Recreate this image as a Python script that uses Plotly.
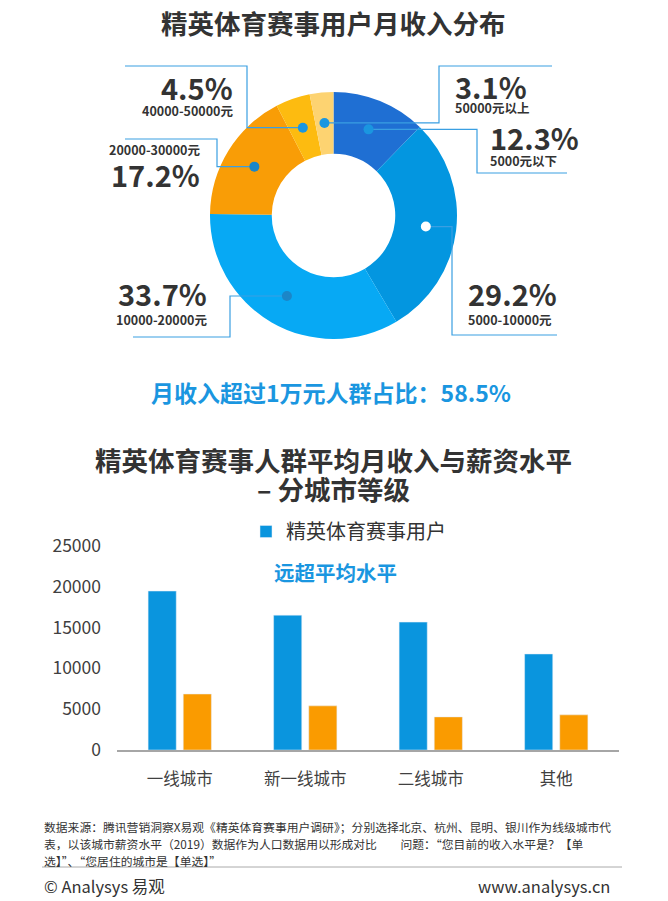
#!/usr/bin/env python3

"""
elite sports event users: monthly income split + income by city tier
"""

import math

import plotly.graph_objects as go

# ---------------------------------------------------------------------------
# data
# ---------------------------------------------------------------------------
income_bands = [
    "5000元以下",
    "5000-10000元",
    "10000-20000元",
    "20000-30000元",
    "40000-50000元",
    "50000元以上",
]
income_share = [12.3, 29.2, 33.7, 17.2, 4.5, 3.1]
high_income_share = 58.5  # share of users above 10k / month

city_tiers = ["一线城市", "新一线城市", "二线城市", "其他"]
elite_income = [19450, 16500, 15650, 11750]
city_avg_salary = [6850, 5400, 4050, 4300]
y_ticks = [0, 5000, 10000, 15000, 20000, 25000]

# ---------------------------------------------------------------------------
# style / layout
# ---------------------------------------------------------------------------
# the page body keeps its default 8px margin, so the figure is drawn 8px in
# from the window edge; all positions below are window pixels
OFF = 8
W, H = 668 - OFF, 901 - OFF
FONT = "Noto Sans CJK SC, Noto Sans, sans-serif"
DARK = "#333333"
ACCENT = "#1a96e0"
LEADER = "#3a9fe2"

SLICE_COLORS = ["#1f6fd3", "#0396e0", "#07a9f4", "#f99d06", "#fdbb10", "#fdd371"]
DOT_COLORS = [ACCENT, "#ffffff", "#1b86c8", "#1b86c8", ACCENT, ACCENT]
COL_ELITE = "#0a95de"
COL_AVG = "#fa9b00"

# donut placement in pixels
PIE_CX, PIE_CY, PIE_R = 333.5, 215.5, 123.5
DOT_R = 93  # radius where the marker dots sit (middle of the ring)

# per slice: elbow x, final line y, line end x, text x, pct y, band y, side
label_layout = [
    (477, 173, 567, 488, 137, 160, "left"),
    (452, 335, 557, 466, 293, 319, "left"),
    (230, 337, 133, 209, 293, 319, "right"),
    (217, 139, 125, 202, 174, 149, "right"),
    (247, 66, 125, 235, 87, 111, "right"),
    (439, 66, 552, 453, 86, 108, "left"),
]


def px(x):
    return (x - OFF) / W


def py(y):
    return 1 - (y - OFF) / H


def note(text, x, y, size, color=DARK, xanchor="center"):
    # free text placed in window pixels
    return dict(
        text=text, x=px(x), y=py(y), xref="paper", yref="paper",
        xanchor=xanchor, yanchor="middle", showarrow=False,
        font=dict(size=size, color=color),
    )


fig = go.Figure()

# ---------------------------------------------------------------------------
# donut
# ---------------------------------------------------------------------------
fig.add_trace(
    go.Pie(
        labels=income_bands,
        values=income_share,
        hole=0.5,
        sort=False,
        direction="clockwise",
        rotation=0,
        textinfo="none",
        marker=dict(colors=SLICE_COLORS, line=dict(width=0)),
        domain=dict(
            x=[px(PIE_CX - PIE_R), px(PIE_CX + PIE_R)],
            y=[py(PIE_CY + PIE_R), py(PIE_CY - PIE_R)],
        ),
        showlegend=False,
    )
)

shapes = []
annotations = []
total = sum(income_share)
cum = 0.0
for i, (band, share) in enumerate(zip(income_bands, income_share)):
    mid = (cum + share / 2) / total
    cum += share
    theta = 2 * math.pi * mid
    dx = PIE_CX + DOT_R * math.sin(theta)
    dy = PIE_CY - DOT_R * math.cos(theta)
    ex, ly, endx, tx, pct_y, band_y, side = label_layout[i]

    # elbow leader line: dot -> elbow -> label line
    path = (
        f"M {px(dx)},{py(dy)} L {px(ex)},{py(dy)} "
        f"L {px(ex)},{py(ly)} L {px(endx)},{py(ly)}"
    )
    shapes.append(
        dict(type="path", xref="paper", yref="paper", path=path,
             line=dict(color=LEADER, width=1.2))
    )
    shapes.append(
        dict(type="circle", xref="paper", yref="paper",
             x0=px(dx - 5), x1=px(dx + 5), y0=py(dy + 5), y1=py(dy - 5),
             fillcolor=DOT_COLORS[i], line=dict(width=0))
    )
    annotations.append(note(f"<b>{share:.1f}%</b>", tx, pct_y, 29, xanchor=side))
    annotations.append(note(f"<b>{band}</b>", tx, band_y, 12.5, xanchor=side))

# ---------------------------------------------------------------------------
# bars by city tier
# ---------------------------------------------------------------------------
fig.add_trace(
    go.Bar(x=city_tiers, y=elite_income, name="精英体育赛事用户",
           marker_color=COL_ELITE, xaxis="x", yaxis="y")
)
fig.add_trace(
    go.Bar(x=city_tiers, y=city_avg_salary, name="城市平均薪资水平",
           marker_color=COL_AVG, showlegend=False, xaxis="x", yaxis="y")
)

# titles and free text
annotations += [
    note("<b>精英体育赛事用户月收入分布</b>", 333, 23, 26.5),
    note(f"<b>月收入超过1万元人群占比：{high_income_share}%</b>", 331, 392, 23, ACCENT),
    note("<b>精英体育赛事人群平均月收入与薪资水平</b>", 333, 459, 26.5),
    note("<b>– 分城市等级</b>", 333, 489, 26.5),
    note("<b>远超平均水平</b>", 335, 572, 20.5, ACCENT),
]

footer = [
    "数据来源：腾讯营销洞察X易观《精英体育赛事用户调研》；分别选择北京、杭州、昆明、银川作为线级城市代",
    "表，以该城市薪资水平（2019）数据作为人口数据用以形成对比　　问题：“您目前的收入水平是？【单",
    "选】”、“您居住的城市是【单选】”",
]
for k, line in enumerate(footer):
    annotations.append(note(line, 42, 826 + 17 * k, 11.8, xanchor="left"))
shapes.append(
    dict(type="line", xref="paper", yref="paper", x0=px(42), x1=px(622),
         y0=py(867), y1=py(867), line=dict(color="#aaaaaa", width=1))
)
annotations.append(note("© Analysys 易观", 42, 886, 16.5, xanchor="left"))
annotations.append(note("www.analysys.cn", 612, 886, 16.5, xanchor="right"))

fig.update_layout(
    width=W,
    height=H,
    margin=dict(l=0, r=0, t=0, b=0, autoexpand=False),
    paper_bgcolor="white",
    plot_bgcolor="rgba(0,0,0,0)",
    font=dict(family=FONT, color=DARK),
    barmode="group",
    bargap=0.44,
    bargroupgap=0.2,
    xaxis=dict(
        domain=[px(117), px(619)],
        anchor="y",
        automargin=False,
        showline=True,
        linecolor="#a6a6a6",
        linewidth=1.5,
        showgrid=False,
        ticks="",
        ticklabelstandoff=13,
        tickfont=dict(size=16.5, color="#404040"),
        fixedrange=True,
    ),
    yaxis=dict(
        domain=[py(750), py(545.7)],
        anchor="x",
        automargin=False,
        range=[0, 25000],
        tickvals=y_ticks,
        ticktext=[str(v) for v in y_ticks],
        showgrid=False,
        zeroline=False,
        showline=False,
        ticks="",
        ticklabelstandoff=15,
        tickfont=dict(size=17.5, color="#404040"),
        fixedrange=True,
    ),
    legend=dict(
        orientation="h",
        x=px(246),
        y=py(512),
        xanchor="left",
        yanchor="top",
        font=dict(size=20, color=DARK),
        itemwidth=30,
        bgcolor="rgba(0,0,0,0)",
    ),
    shapes=shapes,
    annotations=annotations,
)

fig.write_html("out.html")
